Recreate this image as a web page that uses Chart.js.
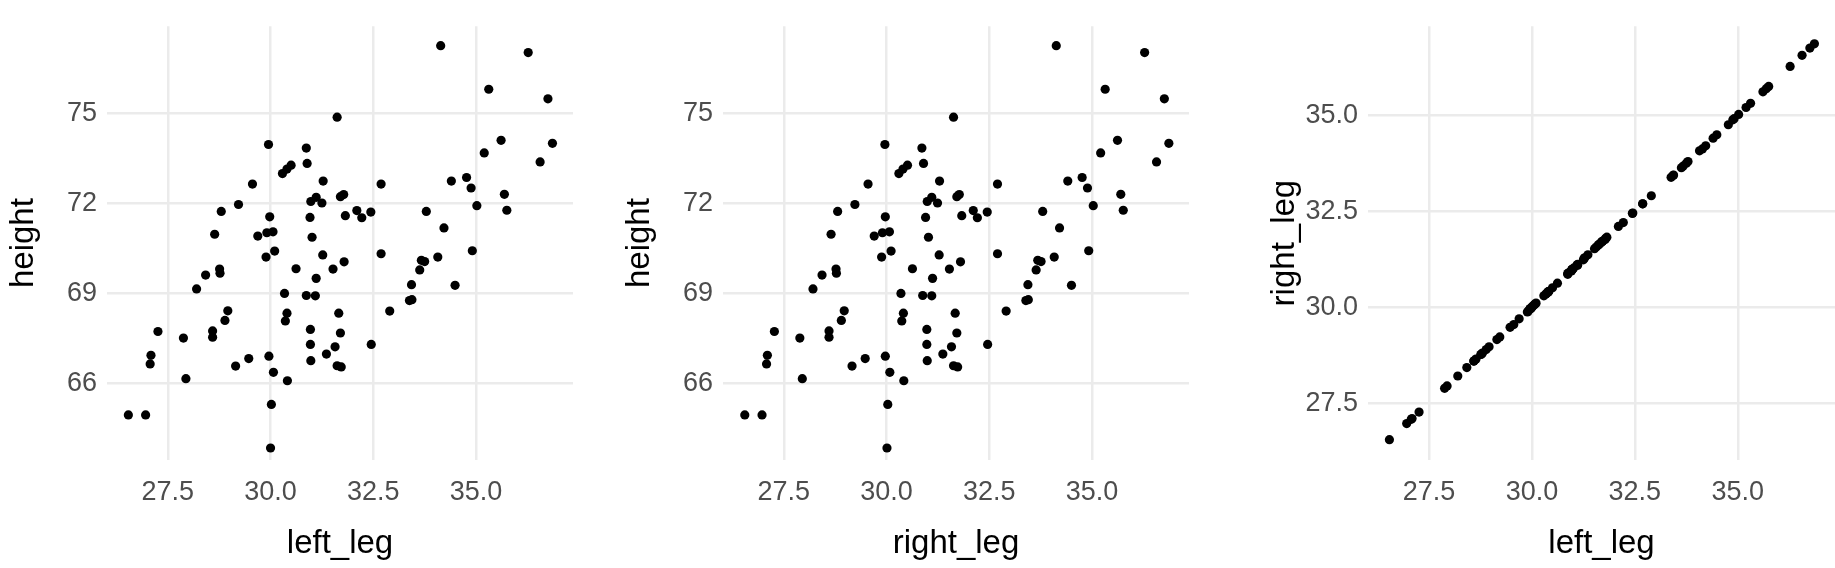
<!DOCTYPE html>
<html>
<head>
<meta charset="utf-8">
<script src="https://cdn.jsdelivr.net/npm/chart.js@4.4.0/dist/chart.umd.min.js"></script>
<style>
  body { margin: 0; background: #fff; width: 1835px; height: 568px; overflow: hidden; }
  .panel { position: absolute; top: 0; height: 568px; }
</style>
</head>
<body>
<div class="panel" style="left:0;width:573px"><canvas id="c1"></canvas></div>
<div class="panel" style="left:616px;width:573px"><canvas id="c2"></canvas></div>
<div class="panel" style="left:1261px;width:574px"><canvas id="c3"></canvas></div>
<script>
// ==========================
//  Datos
// ==========================
const leftLeg = [34.14, 35.31, 31.62, 29.95, 30.87, 30.89, 30.50, 30.40, 30.29, 29.56,
  31.28, 32.69, 31.78, 31.70, 31.11, 30.98, 31.25, 29.22, 28.80, 29.98,
  30.96, 31.82, 32.10, 32.22, 32.44, 33.79, 34.40, 34.77, 34.88, 35.02,
  35.20, 28.64, 29.69, 29.91, 30.06, 31.01, 34.22, 30.10, 29.89, 31.27,
  32.69, 31.79, 31.52, 30.62, 31.11, 28.42, 28.76, 28.77, 28.20, 33.67,
  33.75, 33.63, 34.07, 34.91, 33.43, 34.49, 30.34, 30.87, 31.09, 33.38,
  33.44, 32.90, 28.96, 28.89, 30.40, 30.36, 31.66, 30.97, 31.70, 27.26,
  27.88, 28.59, 28.59, 30.97, 31.57, 32.45, 31.36, 27.09, 27.07, 29.47,
  29.15, 29.96, 30.98, 31.62, 31.72, 27.94, 30.07, 30.41, 30.02, 30.00,
  26.54, 26.96, 36.27, 36.75, 35.61, 36.86, 36.56, 35.69, 35.75];
const rightLeg = [34.13, 35.32, 31.63, 29.96, 30.86, 30.90, 30.51, 30.40, 30.30, 29.55,
  31.29, 32.70, 31.77, 31.71, 31.10, 30.99, 31.24, 29.23, 28.81, 29.97,
  30.95, 31.83, 32.11, 32.21, 32.45, 33.80, 34.41, 34.76, 34.89, 35.03,
  35.21, 28.65, 29.70, 29.90, 30.07, 31.02, 34.21, 30.11, 29.88, 31.28,
  32.70, 31.80, 31.53, 30.63, 31.12, 28.43, 28.77, 28.78, 28.21, 33.68,
  33.76, 33.64, 34.08, 34.92, 33.44, 34.50, 30.35, 30.88, 31.10, 33.39,
  33.45, 32.91, 28.97, 28.90, 30.41, 30.37, 31.67, 30.98, 31.71, 27.27,
  27.89, 28.60, 28.60, 30.98, 31.58, 32.46, 31.37, 27.10, 27.08, 29.48,
  29.16, 29.97, 30.99, 31.63, 31.73, 27.95, 30.08, 30.42, 30.03, 30.01,
  26.55, 26.97, 36.28, 36.76, 35.62, 36.87, 36.57, 35.70, 35.76];
const height = [77.25, 75.80, 74.87, 73.96, 73.84, 73.33, 73.27, 73.14, 72.99, 72.64,
  72.74, 72.64, 72.29, 72.22, 72.20, 72.06, 72.01, 71.96, 71.73, 71.55,
  71.53, 71.59, 71.76, 71.52, 71.71, 71.73, 72.74, 72.86, 72.51, 71.92,
  73.68, 70.97, 70.91, 71.02, 71.05, 70.87, 71.18, 70.41, 70.21, 70.28,
  70.32, 70.05, 69.81, 69.82, 69.50, 69.61, 69.81, 69.67, 69.15, 70.10,
  70.06, 69.78, 70.21, 70.42, 69.29, 69.27, 69.00, 68.93, 68.92, 68.76,
  68.79, 68.41, 68.42, 68.10, 68.34, 68.08, 68.34, 67.80, 67.68, 67.73,
  67.51, 67.75, 67.54, 67.30, 67.22, 67.30, 66.98, 66.94, 66.65, 66.83,
  66.58, 66.91, 66.76, 66.59, 66.55, 66.16, 66.37, 66.09, 65.30, 63.85,
  64.95, 64.95, 77.02, 75.48, 74.10, 74.00, 73.38, 72.30, 71.77];

const legTicks = [27.5, 30.0, 32.5, 35.0];
const heightTicks = [66, 69, 72, 75];

// ==========================
//  Crear un panel de dispersión
// ==========================
function crearPanel(id, xs, ys, xTitle, yTitle, yTicks, yMin, yMax, yDecimals) {
  const puntos = xs.map((x, i) => ({ x: x, y: ys[i] }));
  const grid = { color: "#ebebeb", lineWidth: 2.5, drawTicks: false };
  const tickFont = { family: "Liberation Sans, Arial, sans-serif", size: 27 };
  const titleFont = { family: "Liberation Sans, Arial, sans-serif", size: 33 };
  new Chart(document.getElementById(id), {
    type: "scatter",
    data: {
      datasets: [{
        data: puntos,
        backgroundColor: "#000",
        borderWidth: 0,
        pointRadius: 4.6,
      }],
    },
    options: {
      responsive: true,
      maintainAspectRatio: false,
      animation: false,
      layout: { padding: 0, autoPadding: false },
      plugins: { legend: { display: false }, tooltip: { enabled: false } },
      scales: {
        x: {
          type: "linear", min: 26.02, max: 37.36,
          grid: grid, border: { display: false },
          afterBuildTicks: (ax) => { ax.ticks = legTicks.map((v) => ({ value: v })); },
          afterFit: (ax) => { ax.height = 108; },
          ticks: { color: "#4d4d4d", font: tickFont, padding: 16, callback: (v) => v.toFixed(1) },
          title: { display: true, text: xTitle, color: "#000", font: titleFont, padding: { top: 0 } },
        },
        y: {
          type: "linear", min: yMin, max: yMax,
          grid: grid, border: { display: false },
          afterBuildTicks: (ax) => { ax.ticks = yTicks.map((v) => ({ value: v })); },
          afterFit: (ax) => { ax.width = 107; },
          ticks: { color: "#4d4d4d", font: tickFont, padding: 10, callback: (v) => v.toFixed(yDecimals) },
          title: { display: true, text: yTitle, color: "#000", font: titleFont, padding: { bottom: 0 } },
        },
      },
    },
  });
}

crearPanel("c1", leftLeg, height, "left_leg", "height", heightTicks, 63.45, 77.9, 0);
crearPanel("c2", rightLeg, height, "right_leg", "height", heightTicks, 63.45, 77.9, 0);
crearPanel("c3", leftLeg, rightLeg, "left_leg", "right_leg", legTicks, 26.02, 37.33, 1);
</script>
</body>
</html>
